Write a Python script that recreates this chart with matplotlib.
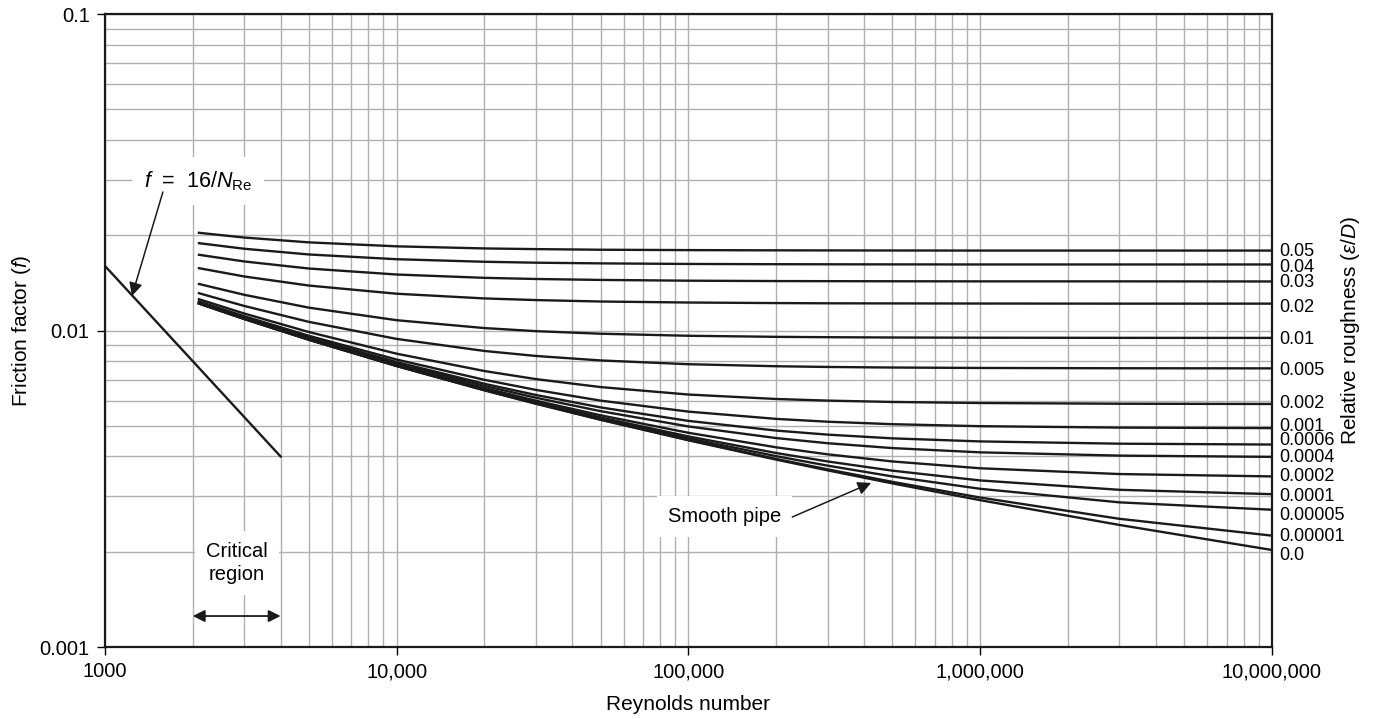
import matplotlib
matplotlib.use("Agg")
import matplotlib.pyplot as plt
from matplotlib.transforms import blended_transform_factory

plt.rcParams['font.family'] = ['Liberation Sans', 'DejaVu Sans']
plt.rcParams['mathtext.fontset'] = 'custom'
plt.rcParams['mathtext.rm'] = 'Liberation Sans'
plt.rcParams['mathtext.it'] = 'Liberation Sans:italic'

re = [2100, 3000, 5000, 1e4, 2e4, 3e4, 5e4, 1e5, 2e5, 3e5, 5e5, 1e6, 3e6, 1e7]

# friction factor read off for each relative roughness
f_05 = [0.02036, 0.01967, 0.01899, 0.01845, 0.01817, 0.01808, 0.01800, 0.01795, 0.01792, 0.01791, 0.01790, 0.01789, 0.01789, 0.01789]
f_04 = [0.01888, 0.01813, 0.01739, 0.01680, 0.01649, 0.01638, 0.01630, 0.01623, 0.01620, 0.01619, 0.01618, 0.01617, 0.01617, 0.01617]
f_03 = [0.01735, 0.01653, 0.01570, 0.01503, 0.01467, 0.01455, 0.01445, 0.01437, 0.01433, 0.01432, 0.01431, 0.01430, 0.01430, 0.01429]
f_02 = [0.01574, 0.01482, 0.01387, 0.01307, 0.01263, 0.01248, 0.01235, 0.01226, 0.01221, 0.01219, 0.01218, 0.01217, 0.01216, 0.01216]
f_01 = [0.01403, 0.01297, 0.01181, 0.01078, 0.01018, 0.009955, 0.009770, 0.009626, 0.009551, 0.009526, 0.009506, 0.009491, 0.009481, 0.009477]
f_005 = [0.01312, 0.01196, 0.01065, 0.009408, 0.008618, 0.008311, 0.008044, 0.007827, 0.007712, 0.007672, 0.007640, 0.007616, 0.007600, 0.007594]
f_002 = [0.01256, 0.01132, 0.009891, 0.008449, 0.007447, 0.007023, 0.006627, 0.006277, 0.006077, 0.006006, 0.005947, 0.005902, 0.005871, 0.005860]
f_001 = [0.01236, 0.01110, 0.009624, 0.008096, 0.006986, 0.006493, 0.006005, 0.005544, 0.005258, 0.005151, 0.005059, 0.004986, 0.004935, 0.004917]
f_0006 = [0.01229, 0.01101, 0.009514, 0.007949, 0.006787, 0.006257, 0.005716, 0.005182, 0.004829, 0.004689, 0.004564, 0.004463, 0.004390, 0.004363]
f_0004 = [0.01225, 0.01097, 0.009459, 0.007874, 0.006684, 0.006133, 0.005562, 0.004977, 0.004573, 0.004405, 0.004252, 0.004122, 0.004025, 0.003989]
f_0002 = [0.01221, 0.01092, 0.009406, 0.007797, 0.006581, 0.006004, 0.005397, 0.004752, 0.004275, 0.004063, 0.003858, 0.003671, 0.003520, 0.003460]
f_0001 = [0.01219, 0.01090, 0.009377, 0.007761, 0.006525, 0.005939, 0.005312, 0.004628, 0.004102, 0.003858, 0.003608, 0.003360, 0.003139, 0.003041]
f_00005 = [0.01218, 0.01089, 0.009364, 0.007741, 0.006497, 0.005906, 0.005268, 0.004564, 0.004009, 0.003742, 0.003460, 0.003162, 0.002865, 0.002715]
f_00001 = [0.01217, 0.01088, 0.009350, 0.007725, 0.006477, 0.005880, 0.005232, 0.004510, 0.003930, 0.003643, 0.003326, 0.002967, 0.002542, 0.002249]
f_smooth = [0.01217, 0.01088, 0.009350, 0.007720, 0.006471, 0.005870, 0.005223, 0.004500, 0.003909, 0.003616, 0.003289, 0.002911, 0.002431, 0.002026]

labels = ['0.05', '0.04', '0.03', '0.02', '0.01', '0.005', '0.002', '0.001', '0.0006',
          '0.0004', '0.0002', '0.0001', '0.00005', '0.00001', '0.0']
curves = [f_05, f_04, f_03, f_02, f_01, f_005, f_002, f_001, f_0006,
          f_0004, f_0002, f_0001, f_00005, f_00001, f_smooth]

# laminar line f = 16/Re
lam_re = [1000, 4000]
lam_f = [0.016, 0.004]

# where the roughness labels sit on the right edge
label_pos = [0.01783, 0.01576, 0.01423, 0.01186, 0.00940, 0.00745, 0.00586, 0.00499, 0.00448,
             0.00396, 0.00347, 0.00300, 0.00261, 0.00224, 0.00194]

fig = plt.figure(figsize=(13.9, 7.19), dpi=100)
ax = fig.add_axes([0.0755, 0.1001, 0.8395, 0.8804])
ax.set_xscale('log')
ax.set_yscale('log')
ax.set_xlim(1000, 1e7)
ax.set_ylim(0.001, 0.1)

ax.grid(True, which='both', color='#b0b0b0', lw=1.0)
ax.set_axisbelow(True)

for f in curves:
    ax.plot(re, f, color='#1a1a1a', lw=1.7, solid_joinstyle='round', zorder=3)
ax.plot(lam_re, lam_f, color='#1a1a1a', lw=1.7, zorder=3)

trans = blended_transform_factory(ax.transAxes, ax.transData)
for lab, y in zip(labels, label_pos):
    ax.text(1.006, y, lab, transform=trans, ha='left', va='center', fontsize=13)

ax.set_xticks([1e3, 1e4, 1e5, 1e6, 1e7])
ax.set_xticklabels(['1000', '10,000', '100,000', '1,000,000', '10,000,000'])
ax.set_yticks([0.001, 0.01, 0.1])
ax.set_yticklabels(['0.001', '0.01', '0.1'])
ax.tick_params(which='major', length=6, width=1, labelsize=14.5, pad=5)
ax.tick_params(which='minor', length=0)
for s in ax.spines.values():
    s.set_linewidth(1.6)
    s.set_color('#1a1a1a')

ax.set_xlabel('Reynolds number', fontsize=15, labelpad=10)
ax.text(-0.0711, 0.5, r'Friction factor ($f$)', transform=ax.transAxes,
        rotation=90, ha='center', va='center', fontsize=15)
ax.text(1.067, 0.5, r'Relative roughness ($\varepsilon/D$)', transform=ax.transAxes,
        rotation=90, ha='center', va='center', fontsize=15)

box = dict(boxstyle='square,pad=0.55', fc='white', ec='none')
arrow = dict(arrowstyle='-|>', color='#1a1a1a', lw=1.1, mutation_scale=20, shrinkA=0, shrinkB=0)

ax.text(2080, 0.0297, r'$f$  =  16/$N_{\mathrm{Re}}$', ha='center', va='center',
        fontsize=15.5, bbox=box, zorder=4)
ax.annotate('', xy=(1237, 0.01285), xytext=(1580, 0.0274), arrowprops=arrow, zorder=5)

ax.text(132800, 0.00259, 'Smooth pipe', ha='center', va='center', fontsize=14.5,
        bbox=box, zorder=4)
ax.annotate('', xy=(423000, 0.0033), xytext=(227000, 0.002575), arrowprops=arrow, zorder=5)

ax.text(2831, 0.00184, 'Critical\nregion', ha='center', va='center', fontsize=14.5,
        linespacing=1.25, bbox=box, zorder=4)
ax.annotate('', xy=(2000, 0.001253), xytext=(4000, 0.001253),
            arrowprops=dict(arrowstyle='<|-|>', color='#1a1a1a', lw=1.3, mutation_scale=18,
                            shrinkA=0, shrinkB=0), zorder=5)

fig.savefig('out.png', dpi=100)
